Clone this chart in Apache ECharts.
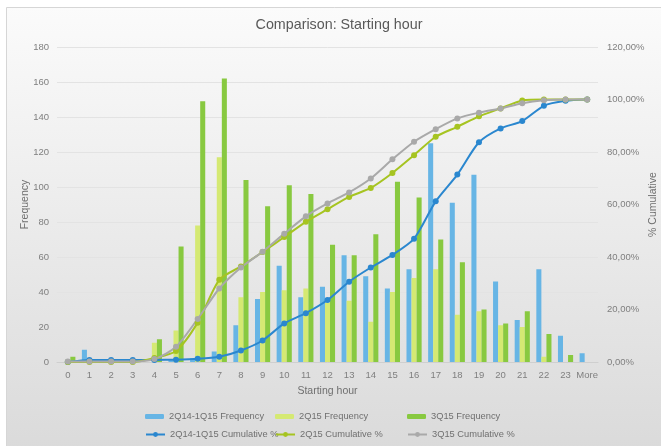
<!DOCTYPE html>
<html>
<head>
<meta charset="utf-8">
<script src="https://cdn.jsdelivr.net/npm/echarts@6/dist/echarts.min.js"></script>
<style>
  html, body { margin: 0; padding: 0; background: #ffffff; }
  #chart { width: 661px; height: 446px; }
</style>
</head>
<body>
<div id="chart"></div>
<script>
// Starting hour buckets
const categories = ['0','1','2','3','4','5','6','7','8','9','10','11','12','13','14','15','16','17','18','19','20','21','22','23','More'];

// Frequencies per starting hour
const freq2Q14_1Q15 = [0, 7, 0, 0, 0, 1, 2, 6, 21, 36, 55, 37, 43, 61, 49, 42, 53, 125, 91, 107, 46, 24, 53, 15, 5];
const freq2Q15      = [0, 0, 0, 0, 11, 18, 78, 117, 37, 40, 41, 42, 34, 35, 23, 40, 48, 53, 27, 29, 21, 20, 3, 0, 0];
const freq3Q15      = [3, 0, 0, 0, 13, 66, 149, 162, 104, 89, 101, 96, 67, 61, 73, 103, 94, 70, 57, 30, 22, 29, 16, 4, 0];

// Cumulative share (%)
const cum2Q14_1Q15 = [0, 0.8, 0.8, 0.8, 0.8, 0.9, 1.2, 2.0, 4.4, 8.2, 14.7, 18.6, 23.6, 30.6, 36.0, 40.8, 47.0, 61.2, 71.4, 83.7, 89.0, 91.8, 97.6, 99.5, 100];
const cum2Q15      = [0, 0, 0, 0, 1.5, 4.2, 15.0, 31.3, 36.4, 41.9, 47.6, 53.4, 58.2, 62.9, 66.3, 72.0, 78.8, 85.8, 89.6, 93.6, 96.6, 99.6, 100, 100, 100];
const cum3Q15      = [0.2, 0.2, 0.2, 0.2, 1.1, 5.8, 16.4, 28.0, 36.0, 42.0, 48.9, 55.5, 60.4, 64.6, 69.9, 77.2, 83.9, 88.7, 92.8, 95.0, 96.6, 98.6, 99.7, 100, 100];

// Legend entries, laid out in two rows of three columns
const legendRow1 = ['2Q14-1Q15 Frequency', '2Q15 Frequency', '3Q15 Frequency'];
const legendRow2 = ['2Q14-1Q15 Cumulative %', '2Q15 Cumulative %', '3Q15 Cumulative %'];

const FONT = 'Liberation Sans, Arial, sans-serif';
const labelGray = '#7f7f7f';
const TICK_SIZE = 9.5;

const colors = {
  barA: '#67b5e5',
  barB: '#d5e973',
  barC: '#88c940',
  lineA: '#2a87cf',
  lineB: '#a6c421',
  lineC: '#a9a9a9'
};

const chart = echarts.init(document.getElementById('chart'), null, { renderer: 'canvas' });

function barSeries(name, data, color) {
  return {
    name, type: 'bar', data, yAxisIndex: 0,
    barGap: '0%', barCategoryGap: '30%',
    itemStyle: { color },
    z: 2
  };
}
function lineSeries(name, data, color) {
  return {
    name, type: 'line', data, yAxisIndex: 1,
    smooth: 0.25,
    symbol: 'circle', symbolSize: 6,
    lineStyle: { color, width: 2 },
    itemStyle: { color },
    z: 3
  };
}

const legendColumns = [145, 275, 407];
function legendItem(name, col, top, itemHeight) {
  return {
    data: [name], left: legendColumns[col], top,
    itemWidth: 19, itemHeight, itemGap: 0, padding: 0,
    textStyle: { fontFamily: FONT, fontSize: 9.3, color: '#6f6f6f' }
  };
}

const option = {
  backgroundColor: '#ffffff',
  animation: false,
  textStyle: { fontFamily: FONT },
  graphic: [{
    type: 'rect', z: -10, silent: true,
    shape: { x: 6.5, y: 7.5, width: 660, height: 445 },
    style: {
      fill: new echarts.graphic.LinearGradient(0, 0, 0, 1, [
        { offset: 0, color: '#fbfbfb' },
        { offset: 1, color: '#dadada' }
      ]),
      stroke: '#d6d6d6', lineWidth: 1
    }
  }],
  title: {
    text: 'Comparison: Starting hour',
    left: 334, top: 13, textAlign: 'center',
    textStyle: { fontFamily: FONT, fontSize: 14.3, fontWeight: 'normal', color: '#595959' }
  },
  legend: [
    ...legendRow1.map((n, i) => legendItem(n, i, 412, 5)),
    ...legendRow2.map((n, i) => legendItem(n, i, 430, 6))
  ],
  grid: { left: 57, right: 63, top: 47, bottom: 84, containLabel: false, outerBoundsMode: 'none' },
  xAxis: {
    type: 'category', data: categories,
    name: 'Starting hour', nameLocation: 'middle', nameGap: 24,
    nameTextStyle: { fontFamily: FONT, fontSize: 10.5, color: '#6f6f6f' },
    axisTick: { show: false },
    axisLine: { show: true, lineStyle: { color: '#cfcfcf' } },
    axisLabel: { fontFamily: FONT, fontSize: TICK_SIZE, color: labelGray, margin: 8, interval: 0 }
  },
  yAxis: [{
    type: 'value', min: 0, max: 180, interval: 20,
    name: 'Frequency', nameLocation: 'middle', nameGap: 26, nameRotate: 90,
    nameMoveOverlap: false,
    nameTextStyle: { fontFamily: FONT, fontSize: 10.5, color: '#6f6f6f' },
    axisLine: { show: false }, axisTick: { show: false },
    axisLabel: { fontFamily: FONT, fontSize: TICK_SIZE, color: labelGray, margin: 8 },
    splitLine: { lineStyle: { color: '#e3e3e3', width: 1 } }
  }, {
    type: 'value', min: 0, max: 120, interval: 20, position: 'right',
    name: '% Cumulative', nameLocation: 'middle', nameGap: 50, nameRotate: 90,
    nameMoveOverlap: false,
    nameTextStyle: { fontFamily: FONT, fontSize: 10.5, color: '#6f6f6f' },
    axisLine: { show: false }, axisTick: { show: false },
    axisLabel: {
      fontFamily: FONT, fontSize: TICK_SIZE, color: labelGray, margin: 9,
      formatter: v => v + ',00%'
    },
    splitLine: { show: false }
  }],
  series: [
    barSeries('2Q14-1Q15 Frequency', freq2Q14_1Q15, colors.barA),
    barSeries('2Q15 Frequency', freq2Q15, colors.barB),
    barSeries('3Q15 Frequency', freq3Q15, colors.barC),
    lineSeries('2Q14-1Q15 Cumulative %', cum2Q14_1Q15, colors.lineA),
    lineSeries('2Q15 Cumulative %', cum2Q15, colors.lineB),
    lineSeries('3Q15 Cumulative %', cum3Q15, colors.lineC)
  ]
};

chart.setOption(option);
</script>
</body>
</html>
